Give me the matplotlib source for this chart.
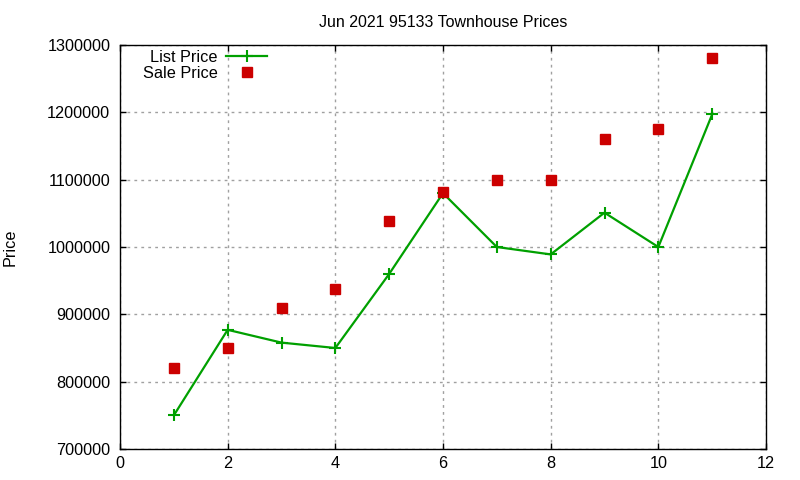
import matplotlib
matplotlib.use("Agg")
import matplotlib.pyplot as plt

# data
months = [1, 2, 3, 4, 5, 6, 7, 8, 9, 10, 11]
list_price = [750000, 877000, 858000, 850000, 960000, 1080000,
              1000000, 989000, 1051000, 1000000, 1197000]
sale_price = [820000, 850000, 909000, 938000, 1039000, 1081000,
              1100000, 1100000, 1161000, 1175000, 1280000]
x_ticks = [0, 2, 4, 6, 8, 10, 12]
y_ticks = [700000, 800000, 900000, 1000000, 1100000, 1200000, 1300000]

plt.rcParams["font.family"] = ["Liberation Sans", "DejaVu Sans"]
FS = 11.7

fig = plt.figure(figsize=(8, 4.8), dpi=100)
ax = fig.add_axes([0.15, 0.0646, 0.8075, 0.8416])

ax.plot(months, list_price, color="#00a000", lw=1.6, marker="+",
        markersize=8, markeredgewidth=1.5, label="List Price")
ax.plot(months, sale_price, ls="none", marker="s", color="#cc0000",
        markersize=6.5, label="Sale Price")

ax.set_xlim(0, 12)
ax.set_ylim(700000, 1300000)
ax.set_xticks(x_ticks)
ax.set_yticks(y_ticks)
ax.set_yticklabels([str(v) for v in y_ticks])
ax.tick_params(direction="in", length=4, width=1, top=True, right=True,
               labelsize=FS, colors="black")
ax.tick_params(axis="x", pad=5)
ax.tick_params(axis="y", pad=7)
ax.grid(True, color="#a0a0a0", ls=(0, (2, 3)), lw=1)
ax.set_axisbelow(True)
for sp in ax.spines.values():
    sp.set_linewidth(1)

ax.set_title("Jun 2021 95133 Townhouse Prices", fontsize=11.5, pad=13)
ax.set_ylabel("Price", fontsize=FS)
ax.yaxis.set_label_coords(-0.158, 0.5)

ax.legend(loc="upper right", bbox_to_anchor=(0.2276, 0.988), frameon=False,
          markerfirst=False, fontsize=FS, borderpad=0, borderaxespad=0,
          labelspacing=0.06, handlelength=2.5, handletextpad=0.55)

fig.savefig("out.png", dpi=100)
